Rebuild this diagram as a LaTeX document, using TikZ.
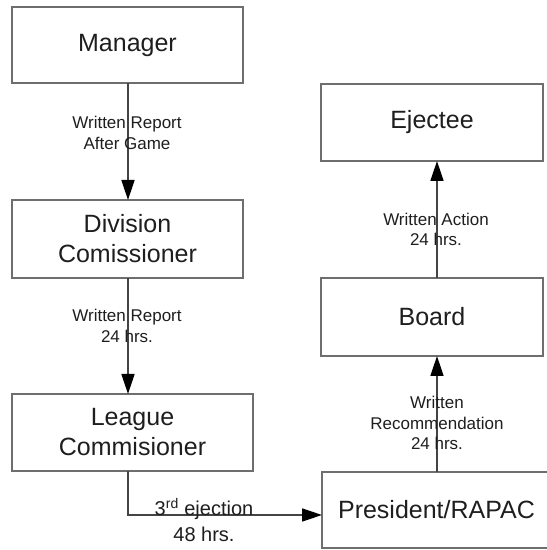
\documentclass[tikz,border=0pt]{standalone}
\usepackage{fontspec}
\setmainfont{Liberation Sans}
\usetikzlibrary{arrows.meta}
\definecolor{boxline}{HTML}{6E6E6E}
\definecolor{conline}{HTML}{444444}
\definecolor{txt}{HTML}{1E1E1E}
\begin{document}
\begin{tikzpicture}[x=1pt,y=1pt,
  box/.style={draw=boxline, line width=2pt, rectangle, inner sep=0pt, outer sep=0pt,
    align=center, text=txt, font=\fontsize{25}{30}\selectfont},
  lbl/.style={align=center, text=txt, inner sep=0pt, font=\fontsize{17}{20.5}\selectfont},
  arr/.style={draw=conline, line width=1.6pt, -{Triangle[length=20pt,width=13pt,fill=black,color=black]}}
]
\useasboundingbox (0,0) rectangle (547,550);
\node[box, minimum width=231, minimum height=76] (m) at (127.5,505) {Manager};
\node[box, minimum width=231, minimum height=78] (d) at (127.5,311) {Division\\Comissioner};
\node[box, minimum width=241, minimum height=77] (l) at (132.5,117.5) {League\\Commisioner};
\node[box, minimum width=222, minimum height=77] (e) at (432,427.5) {Ejectee};
\node[box, minimum width=222, minimum height=78] (b) at (432,233) {Board};
\node[box, draw=none, minimum width=229, minimum height=76] (p) at (436.5,40) {President/RAPAC};
\draw[boxline, line width=2pt] (p.north west) rectangle ([xshift=30pt]p.south east);
\coordinate (lx) at (128,0);
\coordinate (rx) at (437,0);
\coordinate (bend) at (128,35);
\draw[arr] (m.south -| lx) -- (d.north -| lx);
\draw[arr] (d.south -| lx) -- (l.north -| lx);
\draw[arr] (p.north -| rx) -- (b.south -| rx);
\draw[arr] (b.north -| rx) -- (e.south -| rx);
\draw[arr] (l.south -| lx) -- (bend) -- (bend -| p.west);
\node[lbl] (t1) at (127,417) {Written Report\\After Game};
\node[lbl] (t2) at (127,224) {Written Report\\24 hrs.};
\node[lbl] (t3) at (436,320.5) {Written Action\\24 hrs.};
\node[lbl] (t4) at (437,127) {Written\\Recommendation\\24 hrs.};
\node[lbl, font=\fontsize{20}{26}\selectfont] (t5) at (204,30) {3\textsuperscript{rd} ejection\\48 hrs.};
\end{tikzpicture}
\end{document}
